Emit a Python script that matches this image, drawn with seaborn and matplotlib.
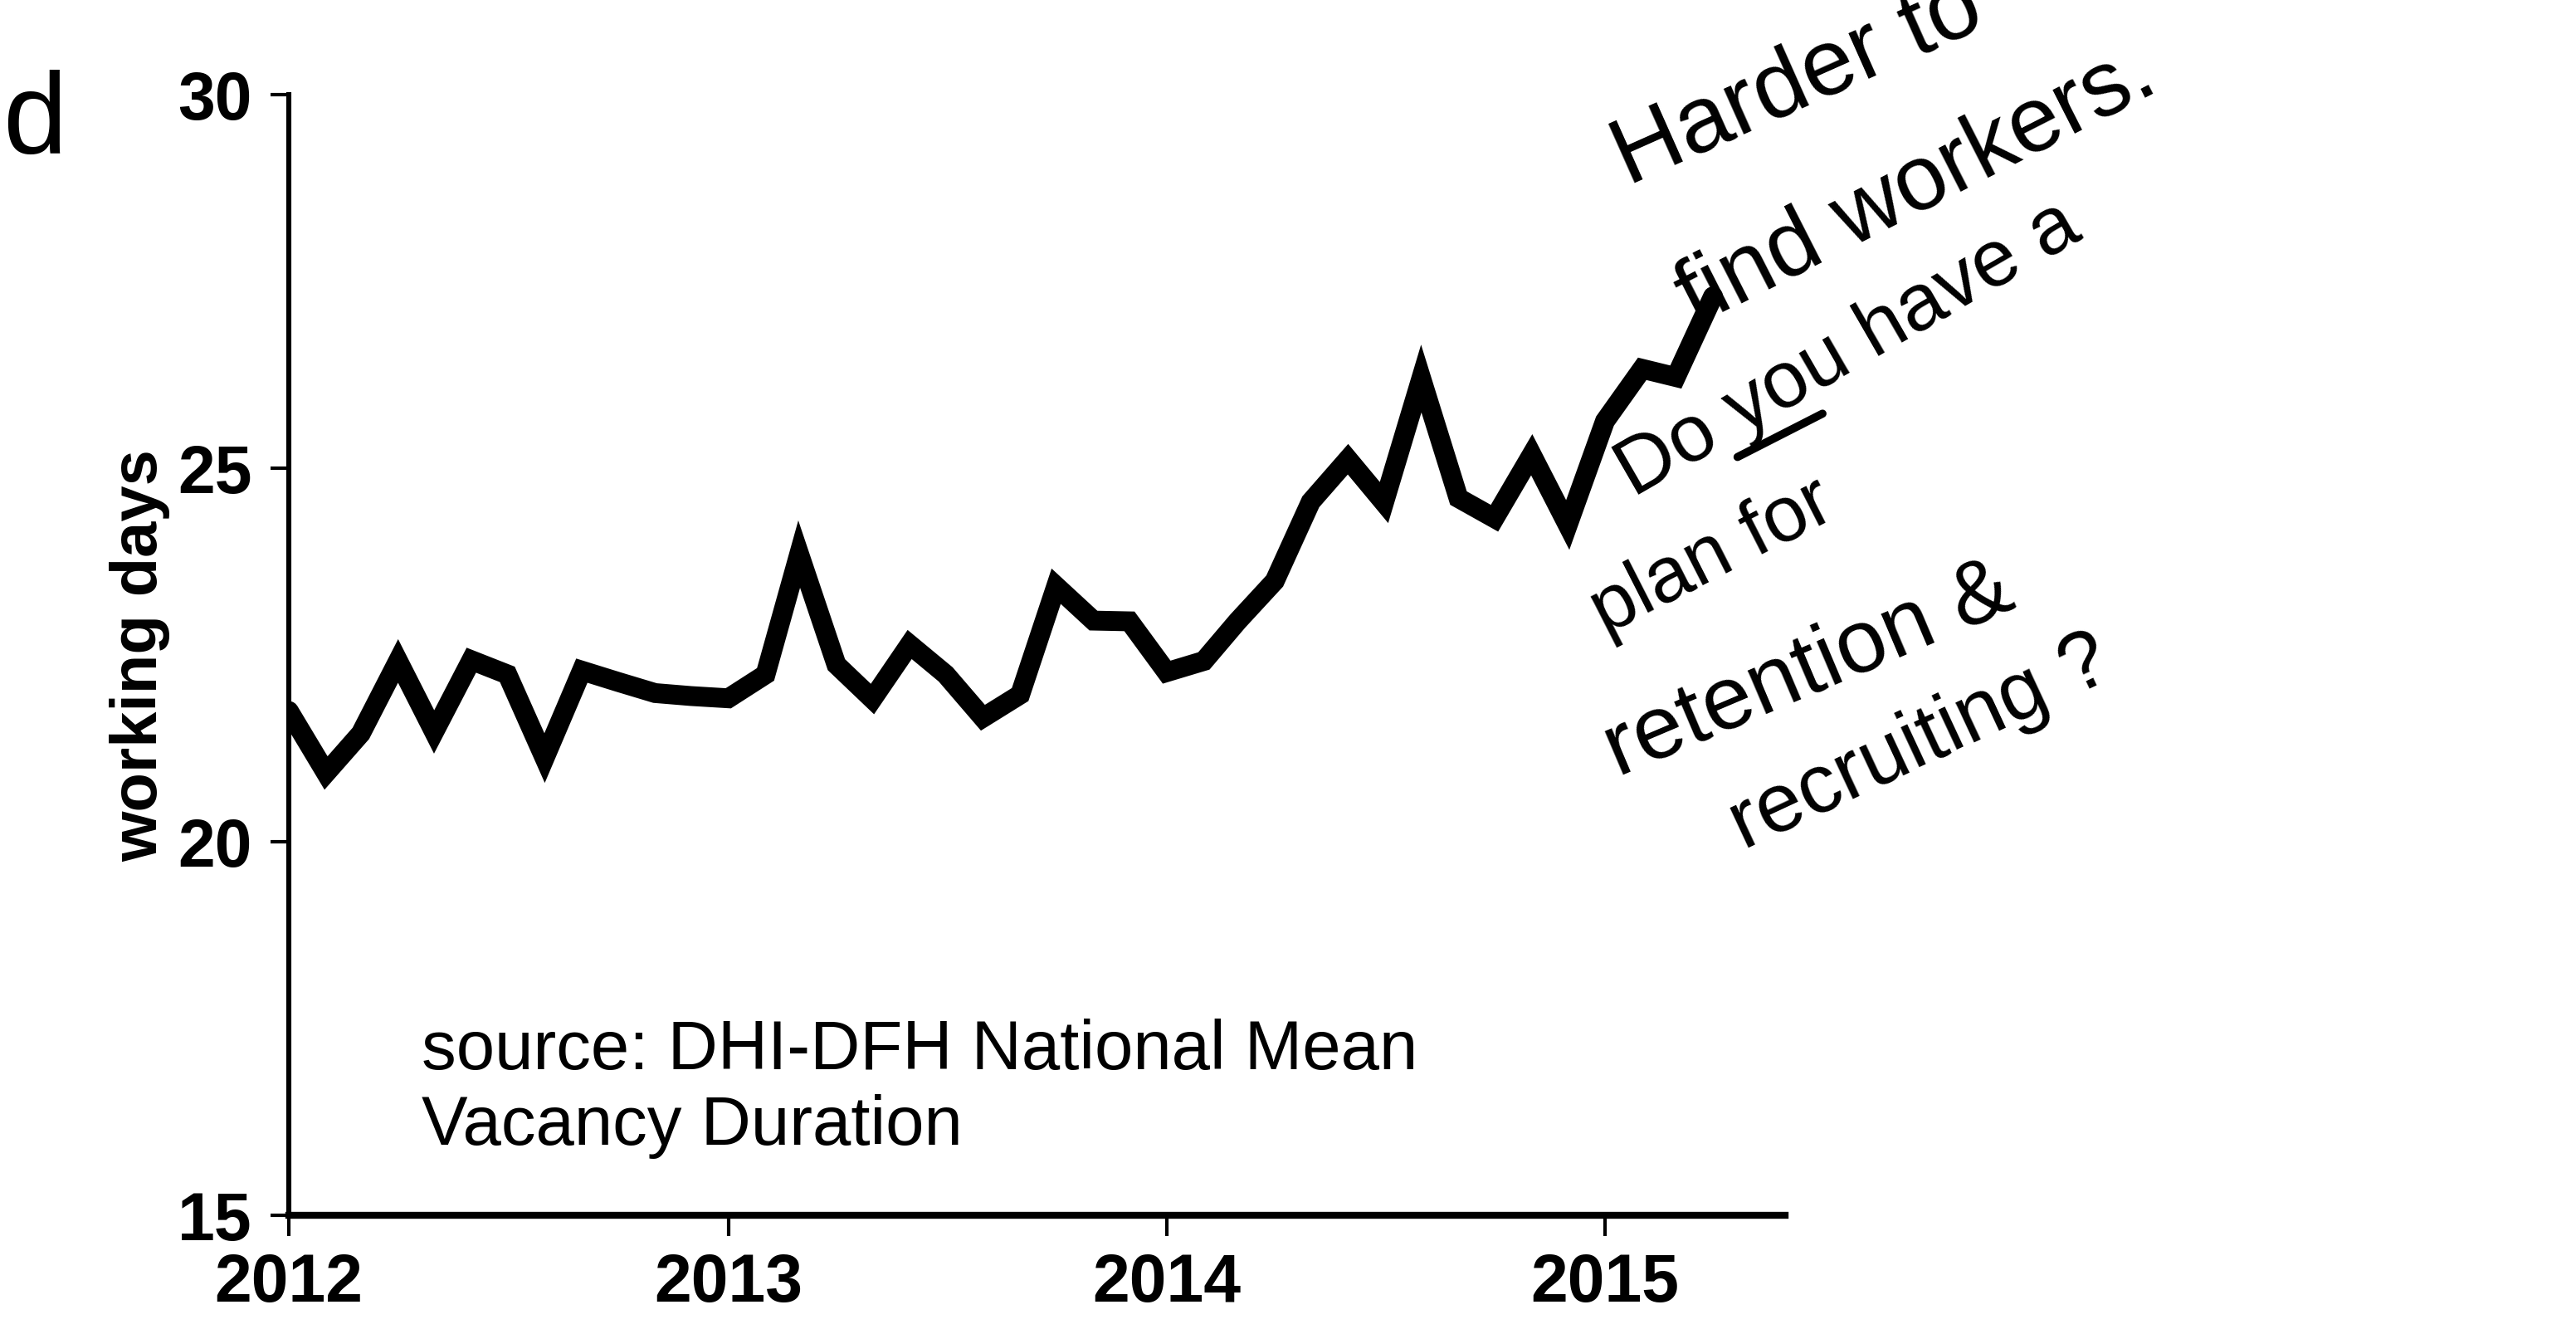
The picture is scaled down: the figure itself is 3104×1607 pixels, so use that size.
import matplotlib
matplotlib.use("Agg")
import matplotlib.pyplot as plt
import seaborn as sns
import pandas as pd
from matplotlib.lines import Line2D

# ---------------- data ----------------
months = pd.date_range("2012-01-01", periods=40, freq="MS")
vacancy_days = [
    21.75, 20.92, 21.45, 22.42, 21.47, 22.43, 22.24, 21.12, 22.29, 22.14, 21.99, 21.95,   # 2012
    21.92, 22.24, 23.85, 22.37, 21.91, 22.64, 22.24, 21.66, 21.97, 23.42, 22.96, 22.95,   # 2013
    22.27, 22.42, 22.95, 23.49, 24.55, 25.12, 24.54, 26.20, 24.60, 24.33, 25.18, 24.24,   # 2014
    25.63, 26.33, 26.22, 27.30,                                                             # 2015
]
year_ticks = ["2012", "2013", "2014", "2015"]
y_ticks = [15, 20, 25, 30]
y_label = "working days"
source_note = "source: DHI-DFH National Mean\nVacancy Duration"
notes = ["Harder to", "find workers.", "Do you have a", "plan for", "retention &", "recruiting ?"]

df = pd.DataFrame({"month": months, "days": vacancy_days})

# ---------------- style ----------------
sns.set_theme(style="white")
plt.rcParams["font.family"] = ["Liberation Sans", "DejaVu Sans"]
for k in ["text.color", "axes.labelcolor", "xtick.color", "ytick.color", "axes.edgecolor"]:
    plt.rcParams[k] = "black"

W, H, DPI = 3104, 1608, 200
fig = plt.figure(figsize=(W / DPI, H / DPI), dpi=DPI)
fig.patch.set_facecolor("white")

# axes box in pixels: left 348, right 2151, top 115, bottom 1465
L, R, T, B = 348, 2151, 115, 1465
ax = fig.add_axes([L / W, 1 - B / H, (R - L) / W, (B - T) / H])

sns.lineplot(data=df, x="month", y="days", ax=ax, color="black", linewidth=8.6,
             solid_joinstyle="miter", solid_capstyle="round")

ax.set_ylim(15, 30)
ax.set_xlim(pd.Timestamp("2012-01-01"), pd.Timestamp("2015-05-31"))
ax.set_yticks(y_ticks)
ax.set_yticklabels([str(v) for v in y_ticks])
ax.set_xticks([pd.Timestamp(f"{y}-01-01") for y in year_ticks])
ax.set_xticklabels(year_ticks)

for s in ["top", "right"]:
    ax.spines[s].set_visible(False)
ax.spines["left"].set_linewidth(2.2)
ax.spines["bottom"].set_linewidth(3.0)

ax.tick_params(axis="y", direction="out", length=8, width=1.5, pad=8, colors="black",
               labelsize=29, left=True)
ax.tick_params(axis="x", direction="out", length=9, width=1.5, pad=7, colors="black",
               labelsize=29, bottom=True)
for lab in ax.get_xticklabels() + ax.get_yticklabels():
    lab.set_fontweight("bold")

ax.set_xlabel("")
ax.set_ylabel(y_label, fontsize=28, fontweight="bold")
ax.yaxis.set_label_coords(-0.079, 0.5)

ax.text(0.089, 0.176, source_note, transform=ax.transAxes, fontsize=30,
        ha="left", va="top", linespacing=1.2, color="black")

# ---------------- handwritten notes ----------------
hand = dict(family=["Liberation Sans", "DejaVu Sans"], color="black",
            ha="left", va="baseline", rotation_mode="anchor")

placements = [  # (fig x, fig y, rotation, size)
    (0.6320, 0.8607, 24, 41),
    (0.6580, 0.7550, 27, 40),
    (0.6340, 0.6269, 30, 35),
    (0.6230, 0.5240, 27, 34),
    (0.6282, 0.4179, 23, 39),
    (0.6770, 0.3632, 25, 36),
]
for txt, (fx, fy, rot, size) in zip(notes, placements):
    fig.text(fx, fy, txt, rotation=rot, fontsize=size, **hand)

# underline "you"
fig.add_artist(Line2D([0.6745, 0.7075], [0.6570, 0.6895], transform=fig.transFigure,
                      color="black", lw=3.5, solid_capstyle="round"))

# cut-off handwriting on the left edge
fig.text(0.001, 0.885, "d", fontsize=50, **hand)

fig.savefig("out.png", dpi=DPI, facecolor="white")
